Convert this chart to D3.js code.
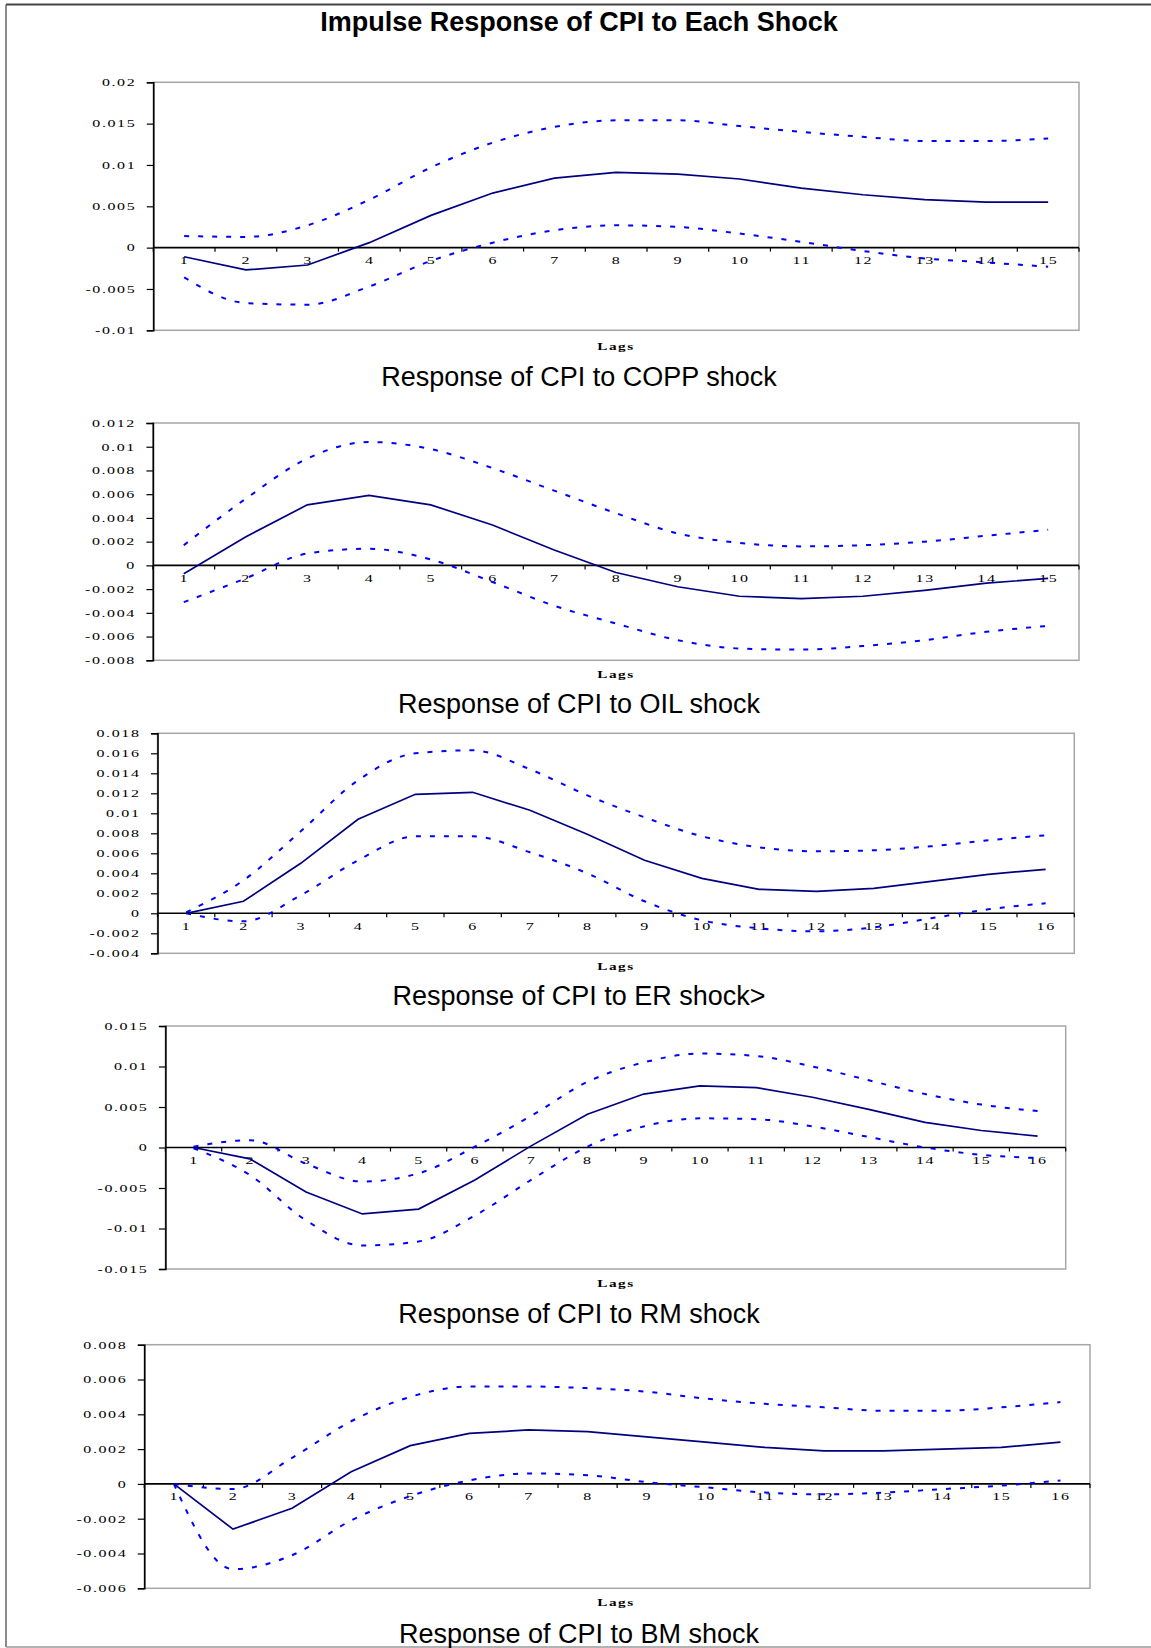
<!DOCTYPE html>
<html>
<head>
<meta charset="utf-8">
<script src="https://cdn.jsdelivr.net/npm/d3@7"></script>
<style>
  body { margin: 0; background: #fff; }
  svg { display: block; }
  .tick-lbl { font-family: "Liberation Serif", "Times New Roman", serif; font-size: 10px; letter-spacing: 1px; fill: #000; }
  .lags { font-family: "Liberation Serif", "Times New Roman", serif; font-size: 9.5px; font-weight: bold; letter-spacing: 1px; fill: #000; }
  .sub { font-family: "Liberation Sans", Arial, sans-serif; font-size: 27px; fill: #000; }
  .title { font-family: "Liberation Sans", Arial, sans-serif; font-size: 27px; font-weight: bold; fill: #000; }
</style>
</head>
<body>
<div id="chart"></div>
<script>
// lags (categories)
var lags15 = [1, 2, 3, 4, 5, 6, 7, 8, 9, 10, 11, 12, 13, 14, 15];
var lags16 = [1, 2, 3, 4, 5, 6, 7, 8, 9, 10, 11, 12, 13, 14, 15, 16];

// response of CPI to COPP shock
var copp   = [-0.0011, -0.0027, -0.0021, 0.0006, 0.0039, 0.0066, 0.0084, 0.0091, 0.0089, 0.0083, 0.0072, 0.0064, 0.0058, 0.0055, 0.0055];
var coppUp = [0.0014, 0.0013, 0.0027, 0.0058, 0.0097, 0.0127, 0.0146, 0.0154, 0.0154, 0.0147, 0.0140, 0.0134, 0.0129, 0.0129, 0.0132];
var coppLo = [-0.0036, -0.0067, -0.0069, -0.0047, -0.0016, 0.0006, 0.0021, 0.0027, 0.0025, 0.0017, 0.0007, -0.0004, -0.0013, -0.0018, -0.0023];

// response of CPI to OIL shock
var oil   = [-0.0007, 0.0024, 0.0051, 0.0059, 0.0051, 0.0034, 0.0013, -0.0006, -0.0018, -0.0026, -0.0028, -0.0026, -0.0021, -0.0015, -0.0011];
var oilUp = [0.0017, 0.0056, 0.0090, 0.0104, 0.0098, 0.0082, 0.0063, 0.0044, 0.0027, 0.0019, 0.0016, 0.0017, 0.0020, 0.0025, 0.0030];
var oilLo = [-0.0031, -0.0011, 0.0010, 0.0014, 0.0005, -0.0014, -0.0034, -0.0049, -0.0063, -0.0070, -0.0071, -0.0068, -0.0063, -0.0056, -0.0051];

// response of CPI to ER shock
var er   = [0, 0.0012, 0.0050, 0.0094, 0.0119, 0.0121, 0.0103, 0.0079, 0.0053, 0.0035, 0.0024, 0.0022, 0.0025, 0.0032, 0.0039, 0.0044];
var erUp = [0.0001, 0.0033, 0.0082, 0.0133, 0.0160, 0.0163, 0.0144, 0.0118, 0.0096, 0.0077, 0.0066, 0.0062, 0.0063, 0.0067, 0.0073, 0.0078];
var erLo = [0, -0.0008, 0.0018, 0.0053, 0.0077, 0.0077, 0.0061, 0.0040, 0.0012, -0.0007, -0.0015, -0.0018, -0.0014, -0.0005, 0.0004, 0.0010];

// response of CPI to RM shock
var rm   = [0, -0.0014, -0.0055, -0.0082, -0.0076, -0.0040, 0.0002, 0.0041, 0.0066, 0.0076, 0.0074, 0.0062, 0.0047, 0.0031, 0.0021, 0.0014];
var rmUp = [0.0001, 0.0009, -0.0020, -0.0042, -0.0032, 0.0001, 0.0039, 0.0081, 0.0105, 0.0116, 0.0113, 0.0100, 0.0083, 0.0066, 0.0053, 0.0045];
var rmLo = [-0.0001, -0.0034, -0.0090, -0.0121, -0.0116, -0.0084, -0.0040, 0.0001, 0.0026, 0.0036, 0.0035, 0.0026, 0.0013, 0.0000, -0.0009, -0.0013];

// response of CPI to BM shock
var bm   = [0, -0.0026, -0.0014, 0.0007, 0.0022, 0.0029, 0.0031, 0.0030, 0.0027, 0.0024, 0.0021, 0.0019, 0.0019, 0.0020, 0.0021, 0.0024];
var bmUp = [0, -0.0003, 0.0015, 0.0036, 0.0050, 0.0056, 0.0056, 0.0055, 0.0053, 0.0049, 0.0046, 0.0044, 0.0042, 0.0042, 0.0044, 0.0047];
var bmLo = [0, -0.0049, -0.0041, -0.0021, -0.0007, 0.0002, 0.0006, 0.0005, 0.0001, -0.0002, -0.0005, -0.0006, -0.0005, -0.0003, -0.0001, 0.0002];

// y tick labels per panel (top to bottom)
var coppTicks = [0.02, 0.015, 0.01, 0.005, 0, -0.005, -0.01];
var oilTicks  = [0.012, 0.01, 0.008, 0.006, 0.004, 0.002, 0, -0.002, -0.004, -0.006, -0.008];
var erTicks   = [0.018, 0.016, 0.014, 0.012, 0.01, 0.008, 0.006, 0.004, 0.002, 0, -0.002, -0.004];
var rmTicks   = [0.015, 0.01, 0.005, 0, -0.005, -0.01, -0.015];
var bmTicks   = [0.008, 0.006, 0.004, 0.002, 0, -0.002, -0.004, -0.006];

var chartTitle = "Impulse Response of CPI to Each Shock";
var subtitles = ["Response of CPI to COPP shock", "Response of CPI to OIL shock",
  "Response of CPI to ER shock>", "Response of CPI to RM shock", "Response of CPI to BM shock"];

var width = 1151, height = 1648;

// panel layout (pixel boxes)
var panels = [
  {lags: lags15, mid: copp, up: coppUp, lo: coppLo, ticks: coppTicks, left: 153.3, right: 1079, top: 82.3, bottom: 330.3, lagsY: 349.5, subY: 386},
  {lags: lags15, mid: oil, up: oilUp, lo: oilLo, ticks: oilTicks, left: 152.9, right: 1079, top: 423, bottom: 660.3, lagsY: 678, subY: 713},
  {lags: lags16, mid: er, up: erUp, lo: erLo, ticks: erTicks, left: 157.5, right: 1074.3, top: 733.3, bottom: 953.3, lagsY: 970, subY: 1005},
  {lags: lags16, mid: rm, up: rmUp, lo: rmLo, ticks: rmTicks, left: 165.4, right: 1065.7, top: 1026, bottom: 1269, lagsY: 1287, subY: 1323.3},
  {lags: lags16, mid: bm, up: bmUp, lo: bmLo, ticks: bmTicks, left: 144.3, right: 1090, top: 1344.7, bottom: 1588.3, lagsY: 1606, subY: 1642.7}
];

var stretch = 1.6; // tick text is drawn wide in the original

var svg = d3.select("#chart").append("svg")
  .attr("width", width)
  .attr("height", height);

// page frame (top, left, bottom)
svg.append("line").attr("x1", 6).attr("x2", width).attr("y1", 4.5).attr("y2", 4.5)
  .attr("stroke", "#444").attr("stroke-width", 2);
svg.append("line").attr("x1", 6).attr("x2", 6).attr("y1", 4.5).attr("y2", 1647)
  .attr("stroke", "#666").attr("stroke-width", 1.5);
svg.append("line").attr("x1", 6).attr("x2", width).attr("y1", 1647).attr("y2", 1647)
  .attr("stroke", "#999").attr("stroke-width", 1.5);

svg.append("text")
  .attr("class", "title")
  .attr("x", 579)
  .attr("y", 30.7)
  .attr("text-anchor", "middle")
  .text(chartTitle);

function fmt(v) {
  return String(+v.toFixed(4));
}

panels.forEach(function(p, idx) {
  var g = svg.append("g");

  var x = d3.scaleBand()
    .domain(p.lags)
    .range([p.left, p.right])
    .paddingInner(0)
    .paddingOuter(0);

  var y = d3.scaleLinear()
    .domain([d3.min(p.ticks), d3.max(p.ticks)])
    .range([p.bottom, p.top]);

  var cx = function(d, i) { return x(p.lags[i]) + x.bandwidth() / 2; };

  // plot area frame (grey)
  g.append("rect")
    .attr("x", p.left)
    .attr("y", p.top)
    .attr("width", p.right - p.left)
    .attr("height", p.bottom - p.top)
    .attr("fill", "none")
    .attr("stroke", "#a6a6a6")
    .attr("stroke-width", 1.5);

  // y axis
  var yAxis = g.append("g")
    .attr("transform", "translate(" + p.left + ",0)")
    .call(d3.axisLeft(y).tickValues(p.ticks).tickSize(6.5).tickFormat(fmt));
  yAxis.select(".domain").attr("stroke", "#000").attr("stroke-width", 1.6);
  yAxis.selectAll(".tick line").attr("stroke", "#000").attr("stroke-width", 1.2);
  yAxis.selectAll(".tick text")
    .attr("class", "tick-lbl")
    .attr("font-family", null).attr("font-size", null)
    .attr("x", -17 / stretch)
    .attr("dy", "0.33em")
    .attr("transform", "scale(" + stretch + ",1)");

  // zero line with category boundary ticks
  var y0 = y(0);
  g.append("line")
    .attr("x1", p.left).attr("x2", p.right)
    .attr("y1", y0).attr("y2", y0)
    .attr("stroke", "#000").attr("stroke-width", 1.6);
  var bounds = p.lags.map(function(l) { return x(l); }).concat([p.right]);
  g.selectAll(".xtick").data(bounds).enter().append("line")
    .attr("x1", function(d) { return d; }).attr("x2", function(d) { return d; })
    .attr("y1", y0).attr("y2", y0 + 4)
    .attr("stroke", "#000").attr("stroke-width", 1.2);
  g.selectAll(".xlbl").data(p.lags).enter().append("text")
    .attr("class", "tick-lbl")
    .attr("text-anchor", "middle")
    .attr("transform", function(d) {
      return "translate(" + (x(d) + x.bandwidth() / 2 + 0.5) + "," + (y0 + 16.5) + ") scale(" + stretch + ",1)";
    })
    .text(function(d) { return d; });

  // lines
  var smooth = d3.line().x(cx).y(function(d) { return y(d); }).curve(d3.curveMonotoneX);
  var straight = d3.line().x(cx).y(function(d) { return y(d); });

  [p.up, p.lo].forEach(function(series) {
    g.append("path")
      .attr("d", smooth(series))
      .attr("fill", "none")
      .attr("stroke", "#0000ff")
      .attr("stroke-width", 2)
      .attr("stroke-dasharray", "5,9");
  });
  g.append("path")
    .attr("d", straight(p.mid))
    .attr("fill", "none")
    .attr("stroke", "#000080")
    .attr("stroke-width", 1.7);

  // labels
  g.append("text")
    .attr("class", "lags")
    .attr("text-anchor", "middle")
    .attr("transform", "translate(616," + p.lagsY + ") scale(" + stretch + ",1)")
    .text("Lags");
  g.append("text")
    .attr("class", "sub")
    .attr("x", 579)
    .attr("y", p.subY)
    .attr("text-anchor", "middle")
    .text(subtitles[idx]);
});
</script>
</body>
</html>
